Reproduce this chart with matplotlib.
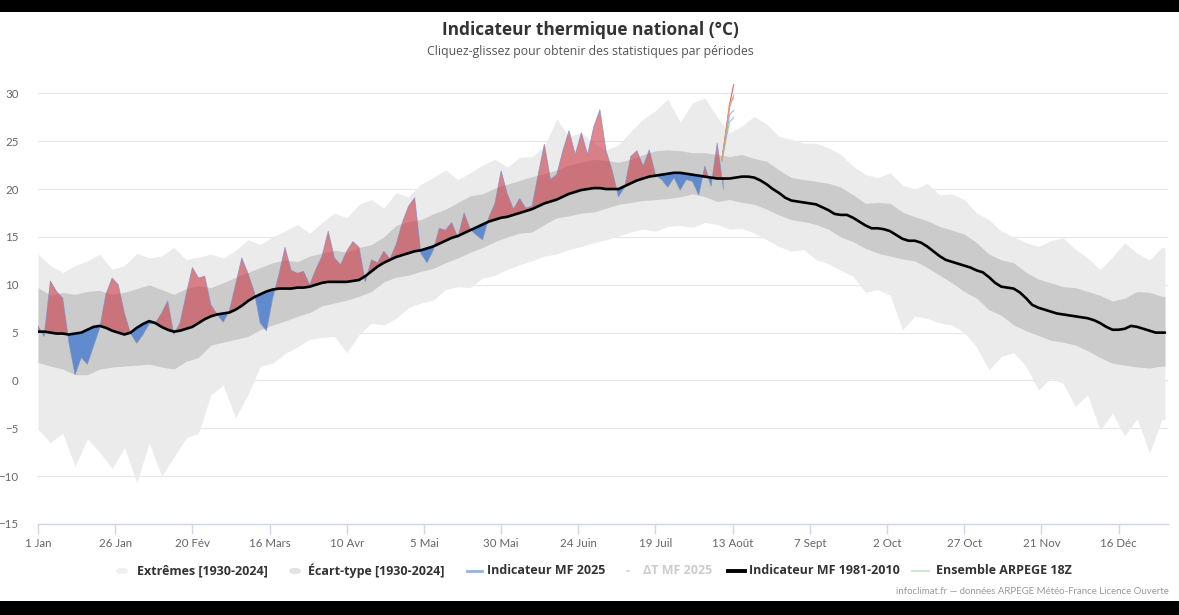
import numpy as np
import matplotlib
matplotlib.use("Agg")
import matplotlib.pyplot as plt
from matplotlib.lines import Line2D
from matplotlib.patches import Rectangle, Circle

plt.rcParams['font.family'] = ['Lato', 'DejaVu Sans']

# ---------------- DATA ----------------
# day-of-year (0 = 1 Jan)
tick_days = [0, 25, 50, 75, 100, 125, 150, 175, 200, 225, 250, 275, 300, 325, 350]
tick_labels = ["1 Jan", "26 Jan", "20 Fév", "16 Mars", "10 Avr", "5 Mai", "30 Mai",
               "24 Juin", "19 Juil", "13 Août", "7 Sept", "2 Oct", "27 Oct", "21 Nov", "16 Déc"]

# Normal 1981-2010, every 2 days (+ 31 Dec)
normal_days = list(range(0, 365, 2)) + [365]
normal_1981_2010 = [
    5.1, 5.1, 5.0, 4.9, 4.9, 4.8, 4.9, 5.0, 5.3, 5.6,
    5.7, 5.5, 5.2, 5.0, 4.8, 5.0, 5.5, 5.9, 6.2, 6.0,
    5.6, 5.3, 5.1, 5.2, 5.4, 5.6, 6.0, 6.4, 6.7, 6.9,
    7.0, 7.1, 7.4, 7.8, 8.3, 8.7, 9.0, 9.3, 9.5, 9.6,
    9.6, 9.6, 9.7, 9.7, 9.8, 10.0, 10.2, 10.3, 10.3, 10.3,
    10.3, 10.4, 10.5, 10.9, 11.4, 11.9, 12.3, 12.6, 12.9, 13.1,
    13.3, 13.5, 13.6, 13.8, 14.0, 14.3, 14.6, 14.9, 15.1, 15.4,
    15.7, 16.0, 16.3, 16.6, 16.8, 17.0, 17.1, 17.3, 17.5, 17.7,
    17.9, 18.2, 18.5, 18.7, 18.9, 19.2, 19.5, 19.7, 19.9, 20.0,
    20.1, 20.1, 20.0, 20.0, 20.0, 20.3, 20.6, 20.9, 21.1, 21.3,
    21.4, 21.5, 21.6, 21.7, 21.7, 21.6, 21.5, 21.4, 21.3, 21.2,
    21.1, 21.1, 21.1, 21.2, 21.3, 21.3, 21.2, 20.9, 20.5, 20.0,
    19.6, 19.1, 18.8, 18.7, 18.6, 18.5, 18.4, 18.1, 17.8, 17.4,
    17.3, 17.3, 17.0, 16.6, 16.2, 15.9, 15.9, 15.8, 15.6, 15.2,
    14.8, 14.6, 14.6, 14.4, 14.0, 13.5, 13.0, 12.6, 12.4, 12.2,
    12.0, 11.8, 11.5, 11.3, 10.8, 10.2, 9.8, 9.7, 9.6, 9.2,
    8.6, 7.9, 7.6, 7.4, 7.2, 7.0, 6.9, 6.8, 6.7, 6.6,
    6.5, 6.3, 6.0, 5.6, 5.3, 5.3, 5.4, 5.7, 5.6, 5.4,
    5.2, 5.0, 5.0, 5.0,
]

# Indicateur MF 2025, every 2 days up to 11 Aug
obs_2025 = [
    5.7, 4.6, 10.4, 9.3, 8.6, 4.0, 0.6, 2.4, 1.7, 3.6,
    5.5, 9.0, 10.7, 10.0, 7.0, 4.9, 3.9, 4.8, 5.9, 6.0,
    7.0, 8.3, 4.8, 6.0, 9.0, 11.8, 10.7, 10.9, 7.9, 6.9,
    6.1, 7.3, 10.0, 12.8, 11.2, 9.3, 6.0, 5.2, 8.6, 11.0,
    13.9, 11.5, 11.2, 11.4, 10.0, 11.6, 13.0, 15.6, 12.8, 12.1,
    13.5, 14.5, 13.9, 10.3, 12.6, 12.3, 13.5, 12.7, 14.2, 16.5,
    18.2, 19.1, 13.3, 12.3, 13.6, 15.9, 15.7, 16.5, 14.9, 17.5,
    15.8, 15.2, 14.7, 17.0, 18.5, 21.9, 19.5, 17.9, 19.0, 18.0,
    18.2, 21.5, 24.7, 21.0, 21.5, 24.0, 26.1, 23.6, 25.9, 23.6,
    26.5, 28.3, 24.0, 21.9, 19.2, 20.2, 23.4, 24.0, 22.4, 24.1,
    21.5, 21.0, 20.2, 21.2, 19.9, 21.0, 20.8, 19.4, 22.4, 20.3,
    24.8, 20.0,
]

# Climatology bands 1930-2024, every 4 days (+ 31 Dec)
band_days = list(range(0, 365, 4)) + [365]
std_high = [
    9.7, 8.9, 9.2, 9.0, 9.3, 9.4, 9.0, 9.2, 9.6, 10.0,
    9.5, 9.0, 9.6, 9.9, 9.7, 10.2, 10.8, 11.3, 11.8, 12.3,
    12.6, 12.4, 13.0, 13.3, 13.6, 13.4, 13.9, 14.2, 15.0, 16.2,
    16.6, 16.8, 17.4, 17.9, 18.6, 19.3, 19.5, 20.1, 20.5, 20.9,
    21.3, 21.6, 22.0, 22.5, 22.8, 23.1, 23.0, 22.8, 23.1, 23.6,
    24.0, 24.1, 24.0, 23.8, 23.8, 23.6, 23.4, 23.6, 23.2, 22.9,
    22.0, 21.2, 21.0, 20.8, 20.6, 20.2, 19.4, 18.5, 18.6, 18.5,
    17.6, 17.1, 16.7, 16.1, 15.7, 15.3, 14.4, 13.2, 12.6, 12.3,
    11.3, 10.6, 10.2, 9.8, 9.7, 9.3, 8.9, 8.3, 8.6, 9.3,
    9.2, 8.8, 8.8,
]
std_low = [
    1.9, 1.5, 1.2, 0.6, 0.6, 1.2, 1.4, 1.5, 1.6, 1.7,
    1.4, 1.2, 2.0, 2.4, 3.7, 4.0, 4.3, 4.6, 5.3, 5.8,
    6.2, 6.7, 7.1, 7.8, 8.1, 8.4, 8.8, 9.3, 10.3, 10.8,
    11.0, 11.4, 11.7, 12.3, 12.8, 13.4, 13.9, 14.5, 15.0, 15.4,
    15.5, 16.3, 17.0, 17.2, 17.5, 17.6, 18.0, 18.4, 18.6, 18.8,
    18.9, 19.0, 19.2, 19.5, 19.2, 18.7, 18.9, 18.6, 18.4, 17.9,
    17.3, 16.8, 16.6, 16.3, 15.8, 15.0, 14.5, 13.8, 13.3, 13.0,
    12.7, 12.5, 11.8, 11.0, 10.2, 9.3, 8.6, 7.4, 6.8, 5.8,
    5.2, 4.7, 4.2, 4.0, 3.7, 3.1, 2.4, 1.8, 1.6, 1.4,
    1.3, 1.5, 1.5,
]
ext_high = [
    13.2, 12.0, 11.3, 12.0, 12.5, 13.2, 11.6, 12.0, 13.3, 12.8,
    13.0, 13.9, 12.6, 12.9, 13.2, 12.8, 13.6, 14.7, 14.2, 15.0,
    15.6, 16.3, 15.4, 16.5, 17.5, 17.0, 18.4, 18.9, 18.0, 19.6,
    19.2, 20.5, 21.2, 22.0, 21.0, 21.7, 22.5, 23.1, 22.3, 23.3,
    23.4, 24.5, 27.3, 25.5, 25.9, 24.8, 24.1, 24.6, 26.0, 27.3,
    28.2, 29.4, 27.0, 29.0, 29.5, 27.5, 25.9, 26.6, 27.6, 26.8,
    25.5, 25.2, 24.8, 24.8, 24.3, 23.6, 22.4, 21.5, 21.2, 21.7,
    20.4, 20.0, 20.6, 19.4, 19.5, 18.9, 17.5, 16.8, 15.6, 15.0,
    14.4, 14.0, 14.6, 14.9, 13.7, 12.8, 11.6, 12.9, 14.4, 13.3,
    12.6, 13.9, 13.9,
]
ext_low = [
    -5.1, -6.5, -5.5, -9.0, -6.1, -7.5, -9.2, -7.0, -10.7, -6.5,
    -10.0, -8.0, -6.0, -5.5, -1.5, -0.5, -3.9, -1.5, 1.5, 1.8,
    2.8, 3.5, 4.3, 4.5, 4.6, 2.9, 4.8, 6.0, 5.8, 6.5,
    7.6, 8.1, 8.4, 9.5, 9.8, 9.7, 10.7, 11.0, 11.6, 12.1,
    12.5, 13.0, 13.2, 13.7, 14.0, 14.4, 14.7, 15.1, 15.5, 15.8,
    15.6, 16.1, 16.2, 16.0, 16.5, 16.3, 15.8, 15.9, 15.4, 14.7,
    14.0, 13.5, 13.7, 12.6, 12.2, 11.5, 10.9, 9.2, 9.5, 8.9,
    5.3, 6.7, 6.5, 6.0, 5.8, 5.0, 3.5, 1.1, 2.5, 2.9,
    1.5, -1.0, 0.2, -0.3, -2.7, -1.5, -5.2, -3.4, -5.8, -4.0,
    -7.6, -4.1, -4.1,
]

# Ensemble ARPEGE 18Z members
ens_days = [221.5, 223, 224, 225.3]
ens_members = [
    [23.0, 26.5, 28.8, 30.9],
    [23.0, 26.0, 28.5, 29.8],
    [22.8, 25.5, 27.0, 27.5],
    [23.0, 25.8, 27.8, 28.2],
    [23.0, 26.3, 29.0, 29.5],
]
ens_colors = ["#d9534f", "#e58fb0", "#7fd1b9", "#8fb3e0", "#e0a060"]

# ---------------- FIGURE ----------------
W, H = 1179, 615
fig = plt.figure(figsize=(W / 100, H / 100), dpi=100)
fig.patch.set_facecolor("white")

def fx(px):
    return px / W

def fy(py):
    return 1 - py / H

ax_left, ax_right, ax_top, ax_bot = 38, 1168, 79, 524
ax = fig.add_axes([fx(ax_left), fy(ax_bot), (ax_right - ax_left) / W, (ax_bot - ax_top) / H])
ax.set_xlim(0, 366)
ax.set_ylim(-15, 31.5)

bd = np.array(band_days)
ax.fill_between(bd, ext_low, ext_high, color="#ebebeb", lw=0, zorder=1)
ax.fill_between(bd, std_low, std_high, color="#cbcbcb", lw=0, zorder=2)

nd = np.array(normal_days)
nv = np.array(normal_1981_2010)
n_obs = len(obs_2025)
od = nd[:n_obs]
ov = np.array(obs_2025)
on = nv[:n_obs]
ax.fill_between(od, ov, on, where=ov >= on, interpolate=True,
                color=(0.80, 0.22, 0.28), alpha=0.6, lw=0, zorder=3)
ax.fill_between(od, ov, on, where=ov < on, interpolate=True,
                color=(0.22, 0.45, 0.82), alpha=0.72, lw=0, zorder=3)
ax.plot(od, ov, color="#6f8fc9", lw=0.6, alpha=0.7, zorder=4)

for m, c in zip(ens_members, ens_colors):
    ax.plot(ens_days, m, color=c, lw=0.8, alpha=0.9, zorder=5)

ax.plot(nd, nv, color="black", lw=1.9, zorder=6, solid_capstyle="round")

# grid & axes
for v in range(-10, 31, 5):
    ax.axhline(v, color="#e6e6e6", lw=0.8, zorder=0)
for s in ["top", "right", "left"]:
    ax.spines[s].set_visible(False)
ax.spines["bottom"].set_color("#ccd6eb")
ax.spines["bottom"].set_linewidth(1.0)
ax.spines["bottom"].set_zorder(7)

ax.set_xticks(tick_days)
ax.set_xticklabels(tick_labels)
ax.tick_params(axis="x", length=7, color="#ccd6eb", width=1, labelsize=8.3,
               labelcolor="#666666", pad=3)
ax.set_yticks(range(-15, 31, 5))
ax.tick_params(axis="y", length=0, labelsize=8.3, labelcolor="#666666", pad=14)
for lab in ax.get_yticklabels():
    lab.set_horizontalalignment("right")

# titles
OS = ['Open Sans', 'DejaVu Sans']
fig.text(fx(590), fy(30), "Indicateur thermique national (°C)", ha="center", va="center",
         fontsize=12.4, fontweight="bold", color="#333333", family=OS)
fig.text(fx(590), fy(51), "Cliquez-glissez pour obtenir des statistiques par périodes",
         ha="center", va="center", fontsize=8.8, color="#555555", family=OS)

# legend (manual)
ly = fy(571)
lfs = 9.0
fig.add_artist(Circle((fx(122), ly), 6 / W, transform=fig.transFigure,
                      facecolor="#f0f0f0", edgecolor="none"))
fig.text(fx(137), ly, "Extrêmes [1930-2024]", ha="left", va="center",
         fontsize=lfs, fontweight="bold", color="#333333", family=OS)
fig.add_artist(Circle((fx(295), ly), 6 / W, transform=fig.transFigure,
                      facecolor="#e2e2e2", edgecolor="none"))
fig.text(fx(308), ly, "Écart-type [1930-2024]", ha="left", va="center",
         fontsize=lfs, fontweight="bold", color="#333333", family=OS)
fig.add_artist(Line2D([fx(467), fx(482)], [ly, ly], transform=fig.transFigure,
                      color="#8fb5e3", lw=2))
fig.text(fx(487), ly, "Indicateur MF 2025", ha="left", va="center",
         fontsize=lfs, fontweight="bold", color="#333333", family=OS)
fig.add_artist(Circle((fx(628), ly), 2 / W, transform=fig.transFigure,
                      facecolor="#d8d8d8", edgecolor="none"))
fig.text(fx(643), ly, "ΔT MF 2025", ha="left", va="center",
         fontsize=lfs, fontweight="bold", color="#cccccc", family=OS)
fig.add_artist(Line2D([fx(728), fx(745)], [ly, ly], transform=fig.transFigure,
                      color="black", lw=2.8))
fig.text(fx(749), ly, "Indicateur MF 1981-2010", ha="left", va="center",
         fontsize=lfs, fontweight="bold", color="#333333", family=OS)
fig.add_artist(Line2D([fx(912), fx(929)], [ly, ly], transform=fig.transFigure,
                      color="#cfe8cf", lw=1.5))
fig.text(fx(936), ly, "Ensemble ARPEGE 18Z", ha="left", va="center",
         fontsize=lfs, fontweight="bold", color="#333333", family=OS)

# footer
fig.text(fx(1169), fy(592), "infoclimat.fr — données ARPEGE Météo-France Licence Ouverte",
         ha="right", va="center", fontsize=6.9, color="#999999")

# black bars
fig.add_artist(Rectangle((0, fy(12)), 1, 12 / H, transform=fig.transFigure,
                         facecolor="black", edgecolor="none"))
fig.add_artist(Rectangle((0, 0), 1, 14 / H, transform=fig.transFigure,
                         facecolor="black", edgecolor="none"))

fig.savefig("out.png", dpi=100, facecolor="white")
